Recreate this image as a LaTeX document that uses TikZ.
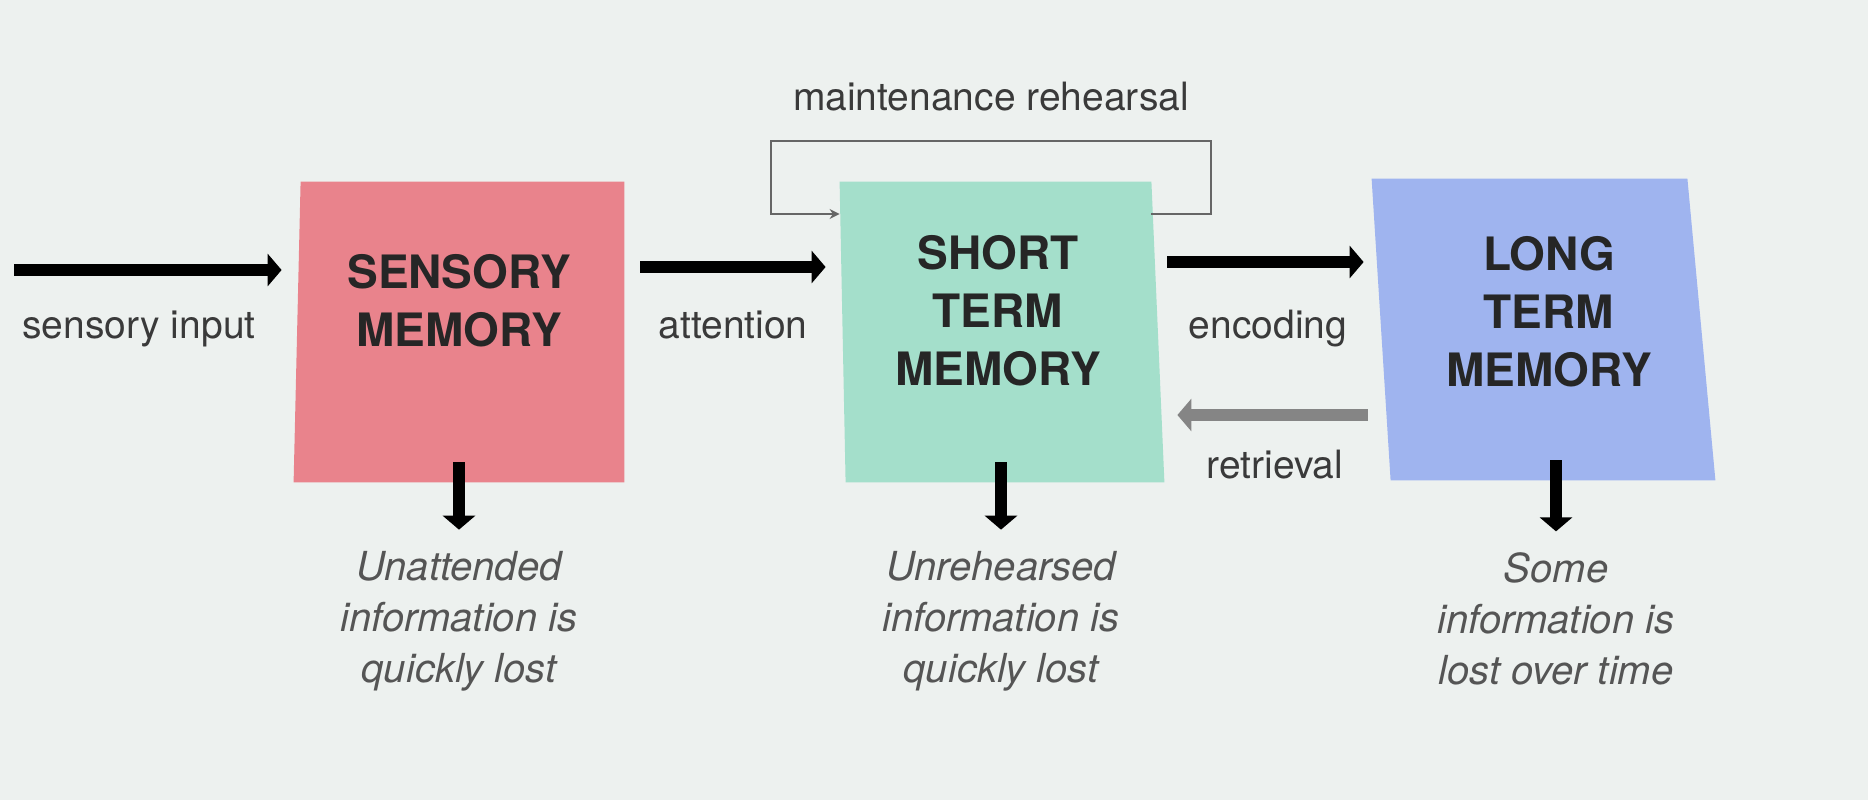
\documentclass[tikz,border=0pt]{standalone}
\usepackage{fontspec}
\setmainfont{TeX Gyre Heros}
\usepackage{tikz}
\usetikzlibrary{arrows.meta}
\usetikzlibrary{calc}
\definecolor{bg}{HTML}{EDF1EF}
\definecolor{sensorycol}{HTML}{E9838C}
\definecolor{shortcol}{HTML}{A4DFCB}
\definecolor{longcol}{HTML}{9FB4EF}
\definecolor{labelcol}{HTML}{3A3A3A}
\definecolor{lostcol}{HTML}{555555}
\tikzset{>=latex}
\tikzset{
    memory/.style = {rectangle, inner sep=0pt, minimum height=150pt},
    memtext/.style = {align=center, inner sep=0pt, font=\bfseries\fontsize{23}{29}\selectfont, text=black!85},
    flowlabel/.style = {anchor=base, inner sep=0pt, font=\fontsize{19.5}{23}\selectfont, text=labelcol},
    losttext/.style = {align=center, inner sep=0pt, font=\itshape\fontsize{20}{25.5}\selectfont, text=lostcol},
    fatarrow/.style = {line width=6pt, -{Triangle[length=7pt,width=16pt]}},
    rehearse/.style = {line width=1.2pt, draw=black!60, -{Stealth[length=5pt,width=5pt]}},
}

\begin{document}
\begin{tikzpicture}[x=0.5pt,y=-0.5pt]
    \fill[bg] (0,0) rectangle (1868,800);
    \useasboundingbox (0,0) rectangle (1868,800);

    % the three stores
    \node[memory, minimum width=165pt] (smem) at (459,332) {};
    \node[memory, minimum width=162pt] (stm) at (1002,332) {};
    \node[memory, minimum width=171.5pt, minimum height=150.5pt] (ltm) at (1543.5,329.5) {};
    \fill[sensorycol] ([xshift=3.5pt]smem.north west) -- (smem.north east) -- (smem.south east) -- (smem.south west) -- cycle;
    \fill[shortcol] (stm.north west) -- ([xshift=-6.5pt]stm.north east) -- (stm.south east) -- ([xshift=3pt]stm.south west) -- cycle;
    \fill[longcol] (ltm.north west) -- ([xshift=-14pt]ltm.north east) -- (ltm.south east) -- ([xshift=9.5pt]ltm.south west) -- cycle;
    \node[memtext] (smemtext) at ([yshift=15.5pt]smem.center) {SENSORY\\MEMORY};
    \node[memtext] (stmtext) at ([xshift=-2pt,yshift=10.5pt]stm.center) {SHORT\\TERM\\MEMORY};
    \node[memtext] (ltmtext) at ([xshift=2.75pt,yshift=8.75pt]ltm.center) {LONG\\TERM\\MEMORY};

    % labels
    \node[flowlabel] (inputlbl) at (139,338) {sensory input};
    \node[flowlabel] (attnlbl) at (733,338) {attention};
    \node[flowlabel] (enclbl) at (1268,338) {encoding};
    \node[flowlabel] (retrlbl) at (1275,478) {retrieval};
    \node[flowlabel] (rehlbl) at (991,110) {maintenance rehearsal};

    \node[losttext] (lost1) at (459,621) {Unattended\\information is\\quickly lost};
    \node[losttext] (lost2) at (1001,621) {Unrehearsed\\information is\\quickly lost};
    \node[losttext] (lost3) at (1556,619) {Some\\information is\\lost over time};

    % flow
    \coordinate (inp) at (14,270);
    \draw[fatarrow, shorten >=6pt] (inp) -- (inp -| smem.west);
    \draw[fatarrow, shorten <=8pt, shorten >=7pt] ([yshift=32.5pt]smem.east) -- ([yshift=32.5pt]smem.east -| stm.west);
    \draw[fatarrow, shorten <=1.5pt, shorten >=4pt] ([yshift=35pt]stm.east) -- ([yshift=35pt]stm.east -| ltm.west);
    \draw[fatarrow, draw=black!48, shorten <=2pt, shorten >=6.5pt] ([yshift=-42.75pt]ltm.west) -- ([yshift=-42.75pt]ltm.west -| stm.east);

    \draw[fatarrow, shorten >=10.5pt] ([yshift=10pt]smem.south -| lost1.north) -- (lost1.north);
    \draw[fatarrow, shorten >=10.5pt] ([yshift=10pt]stm.south -| lost2.north) -- (lost2.north);
    \draw[fatarrow, shorten >=10.5pt] ([yshift=10pt]ltm.south -| lost3.north) -- (lost3.north);

    % rehearsal loop
    \coordinate (loopR) at (1211,141);
    \coordinate (loopL) at (771,141);
    \draw[rehearse] ([xshift=-6.5pt,yshift=59pt]stm.east) -| (loopR) -- (loopL) |- ([yshift=59pt]stm.west);
\end{tikzpicture}
\end{document}
